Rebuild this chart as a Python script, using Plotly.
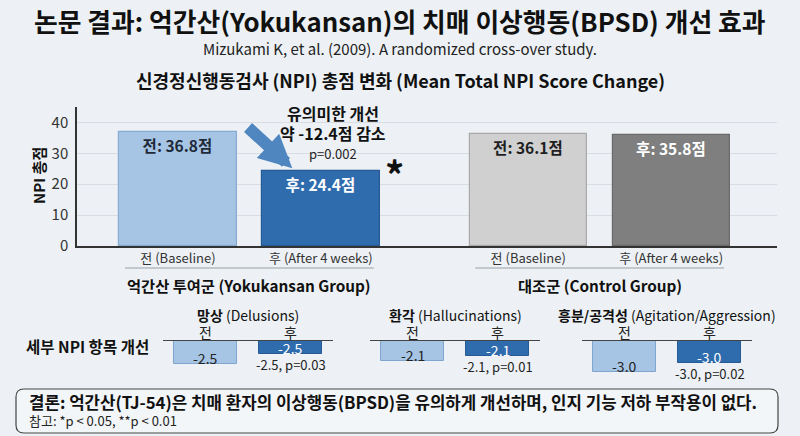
import plotly.graph_objects as go

# 메인 차트 데이터
groups = ["억간산 투여군", "대조군"]
group_eng = ["(Yokukansan Group)", "(Control Group)"]
time_labels = ["전 (Baseline)", "후 (After 4 weeks)"]
npi_scores = [36.8, 24.4, 36.1, 35.8]
bar_texts = ["전: 36.8점", "후: 24.4점", "전: 36.1점", "후: 35.8점"]

# 세부 NPI 항목
items = ["망상", "환각", "흥분/공격성"]
items_eng = ["(Delusions)", "(Hallucinations)", "(Agitation/Aggression)"]
pre_bar = [-2.3, -2.0, -3.1]
post_bar = [-1.3, -1.5, -2.2]
pre_text = ["-2.5", "-2.1", "-3.0"]
post_text = ["-2.5", "-2.1", "-3.0"]
post_note = ["-2.5, p=0.03", "-2.1, p=0.01", "-3.0, p=0.02"]

FONT = "Noto Sans CJK KR"
W, H = 800, 436
BG = "#edf1f5"
LIGHT_BLUE = "#a6c5e4"
DARK_BLUE = "#2f6cae"
LIGHT_GREY = "#d0d0d0"
DARK_GREY = "#7f7f7f"


def px(xp):
    return xp / W


def py(yp):
    return 1 - yp / H


def label(x, y, text, size, color="#111", xanchor="center", **kw):
    # paper 좌표 텍스트
    return dict(x=px(x), y=py(y), xref="paper", yref="paper", text=text,
                xanchor=xanchor, yanchor="middle", showarrow=False,
                font=dict(family=FONT, size=size, color=color), **kw)


fig = go.Figure()

# 그룹 간 간격을 넓게
gap = 2.45
pos = [g * gap + t for g in range(len(groups)) for t in range(2)]

fig.add_trace(go.Bar(
    x=pos, y=npi_scores, width=0.82,
    marker=dict(color=[LIGHT_BLUE, DARK_BLUE, LIGHT_GREY, DARK_GREY],
                line=dict(color=["#86aad0", "#255a94", "#a9a9a9", "#6a6a6a"], width=1.2)),
    text=bar_texts, textposition="inside", insidetextanchor="end",
    textfont=dict(family=FONT, size=15.5, color=["#1f2a38", "white", "#1f1f1f", "white"], weight="bold"),
    constraintext="none", showlegend=False, hoverinfo="skip",
))

fig.update_layout(
    xaxis=dict(domain=[px(77), px(777)], range=[-0.706, 4.19], automargin=False,
               tickvals=pos, ticktext=time_labels * 2,
               tickfont=dict(family=FONT, size=13, color="#333"),
               showline=True, linecolor="#333", linewidth=1.5, showgrid=False,
               zeroline=False, ticks=""),
    yaxis=dict(domain=[py(246), py(107)], range=[0, 45], automargin=False,
               tickvals=[0, 10, 20, 30, 40], ticklabelstandoff=4,
               tickfont=dict(family=FONT, size=15, color="#333"),
               showline=True, linecolor="#333", linewidth=1.5,
               gridcolor="#d8dde3", gridwidth=1, zeroline=False, ticks=""),
)

annotations = []
shapes = []

# 그룹 라벨 + 밑줄
for g in range(len(groups)):
    left, right = pos[2 * g], pos[2 * g + 1]
    mid = (left + right) / 2
    annotations.append(dict(
        x=mid, xref="x", y=py(285), yref="paper", xanchor="center", yanchor="middle",
        text=f"<b>{groups[g]} {group_eng[g]}</b>", showarrow=False,
        font=dict(family=FONT, size=15.3, color="#111")))
    shapes.append(dict(type="line", xref="x", yref="paper",
                       x0=left - 0.37, x1=right + 0.37, y0=py(268), y1=py(268),
                       line=dict(color="#9aa0a6", width=1)))

# 유의미한 개선 화살표
annotations.append(dict(
    x=0.80, y=25.2, ax=0.48, ay=38.8, xref="x", yref="y", axref="x", ayref="y",
    text="", showarrow=True, arrowhead=2, arrowsize=0.55, arrowwidth=12,
    arrowcolor="#5086c0", standoff=0))
annotations += [
    label(333, 113, "<b>유의미한 개선</b>", 16),
    label(333, 133, "<b>약 -12.4점 감소</b>", 16),
    label(333, 153, "p=0.002", 13, "#222"),
    label(394, 174, "<b>*</b>", 38),
    label(38, 176, "<b>NPI 총점</b>", 15, textangle=-90),
]

# 제목들
annotations += [
    label(400, 21, "<b>논문 결과: 억간산(Yokukansan)의 치매 이상행동(BPSD) 개선 효과</b>", 25.8),
    label(400, 48, "Mizukami K, et al. (2009). A randomized cross-over study.", 15, "#222"),
    label(400, 80, "<b>신경정신행동검사 (NPI) 총점 변화 (Mean Total NPI Score Change)</b>", 18),
    label(24, 346, "<b>세부 NPI 항목 개선</b>", 15.5, xanchor="left"),
]

# 세부 항목 미니 차트
mini_left = [163, 370, 582]
mini_width = 170
for i in range(len(items)):
    n = i + 2
    xa, ya = f"x{n}", f"y{n}"
    fig.add_trace(go.Bar(
        x=[0, 1], y=[pre_bar[i], post_bar[i]], width=0.74, xaxis=xa, yaxis=ya,
        marker=dict(color=[LIGHT_BLUE, DARK_BLUE], line=dict(color=["#7ea6cf", "#255a94"], width=1)),
        showlegend=False, hoverinfo="skip",
    ))
    fig.update_layout({
        f"xaxis{n}": dict(domain=[px(mini_left[i]), px(mini_left[i] + mini_width)],
                          range=[-0.5, 1.5], anchor=ya, side="top", automargin=False,
                          tickvals=[0, 1], ticktext=["전", "후"], ticklabelstandoff=-4,
                          tickfont=dict(family=FONT, size=14, color="#222"),
                          showline=True, linecolor="#444", linewidth=1.2,
                          showgrid=False, zeroline=False, ticks=""),
        f"yaxis{n}": dict(domain=[py(381), py(341)], range=[-4, 0], anchor=xa,
                          automargin=False, visible=False),
    })
    # 막대 안 값 (막대 아래쪽 끝 근처)
    for j, (val, txt, col) in enumerate([(pre_bar[i], pre_text[i], "#222"),
                                         (post_bar[i], post_text[i], "white")]):
        annotations.append(dict(
            x=j, y=val, xref=xa, yref=ya, xanchor="center", yanchor="middle", yshift=6,
            text=txt, showarrow=False, font=dict(family=FONT, size=14, color=col)))
    annotations.append(dict(
        x=1, y=post_bar[i], xref=xa, yref=ya, xanchor="center", yanchor="top", yshift=1,
        text=post_note[i], showarrow=False,
        font=dict(family=FONT, size=13, color="#222")))
    annotations.append(dict(
        x=0.5, xref=f"{xa} domain", y=py(315), yref="paper", xanchor="center", yanchor="middle",
        text=f"<b>{items[i]}</b> {items_eng[i]}", showarrow=False,
        font=dict(family=FONT, size=14, color="#111")))

# 결론 박스
x0, x1, y0, y1 = px(16), px(778), py(433), py(389)
rx, ry = px(8), 8 / H
shapes.append(dict(
    type="path", xref="paper", yref="paper",
    path=(f"M {x0 + rx},{y0} L {x1 - rx},{y0} Q {x1},{y0} {x1},{y0 + ry} "
          f"L {x1},{y1 - ry} Q {x1},{y1} {x1 - rx},{y1} L {x0 + rx},{y1} "
          f"Q {x0},{y1} {x0},{y1 - ry} L {x0},{y0 + ry} Q {x0},{y0} {x0 + rx},{y0} Z"),
    line=dict(color="#444", width=1.2), fillcolor="rgba(255,255,255,0.35)"))
annotations += [
    label(27, 402, "<b>결론: 억간산(TJ-54)은 치매 환자의 이상행동(BPSD)을 유의하게 개선하며, 인지 기능 저하 부작용이 없다.</b>",
          16.8, xanchor="left"),
    label(27, 420, "참고: *p < 0.05, **p < 0.01", 13, "#222", xanchor="left"),
]

fig.update_layout(
    width=W, height=H, margin=dict(l=0, r=0, t=0, b=0),
    paper_bgcolor=BG, plot_bgcolor="rgba(0,0,0,0)",
    font=dict(family=FONT), bargap=0,
    annotations=annotations, shapes=shapes,
)

# 페이지 기본 여백 제거, 모드바 숨김
fig.write_html("out.html", config={"displayModeBar": False},
               post_script=f"document.body.style.margin='0';document.body.style.background='{BG}';")
